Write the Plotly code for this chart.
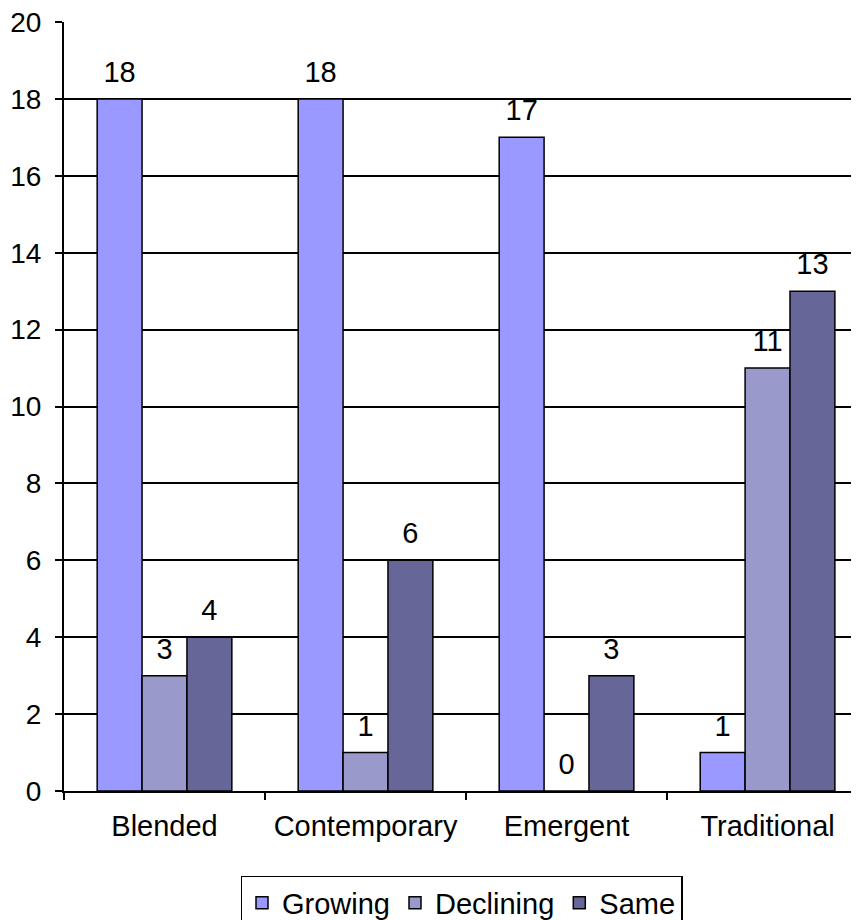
import plotly.graph_objects as go

categories = ["Blended", "Contemporary", "Emergent", "Traditional"]
growing = [18, 18, 17, 1]
declining = [3, 1, 0, 11]
same = [4, 6, 3, 13]
y_ticks = list(range(0, 21, 2))

FONT = "Liberation Sans, Arial, sans-serif"
FS = 29

series = [
    ("Growing", growing, "#9999FF"),
    ("Declining", declining, "#9999CC"),
    ("Same", same, "#666699"),
]

fig = go.Figure()
for name, vals, color in series:
    fig.add_trace(go.Bar(
        name=name, x=categories, y=vals, offsetgroup=name,
        marker=dict(color=color, line=dict(color="black", width=1.5)),
        hoverinfo="x+y+name",
    ))
for name, vals, color in series:
    fig.add_trace(go.Scatter(
        x=categories, y=vals, offsetgroup=name, mode="markers+text",
        text=[str(v) for v in vals], textposition="top center",
        textfont=dict(size=FS, color="black", family=FONT),
        marker=dict(size=14, opacity=0, color=color),
        showlegend=False, hoverinfo="skip", cliponaxis=False,
    ))

fig.update_layout(
    width=851, height=912,
    margin=dict(l=56, r=0, t=14, b=129, autoexpand=False),
    paper_bgcolor="white", plot_bgcolor="white",
    barmode="group", bargap=0.33, bargroupgap=0,
    scattermode="group", scattergap=0.33,
    font=dict(family=FONT, size=FS, color="black"),
    showlegend=True,
    legend=dict(
        orientation="h", x=0.5, xanchor="center", y=-0.1105, yanchor="top",
        bordercolor="black", borderwidth=1.5, bgcolor="white",
        font=dict(size=FS, family=FONT, color="black"),
        traceorder="normal", itemwidth=30, tracegroupgap=0,
    ),
    xaxis=dict(
        type="category", range=[-0.5, 3.455], automargin=False,
        showline=True, linecolor="black", linewidth=2,
        ticks="outside", tickson="boundaries", ticklen=7, tickwidth=1.5, tickcolor="black",
        showgrid=False, tickfont=dict(size=FS), ticklabelstandoff=8,
        ticklabeloverflow="allow",
    ),
    yaxis=dict(
        range=[0, 20], tickvals=y_ticks, automargin=False,
        showline=True, linecolor="black", linewidth=2,
        ticks="outside", ticklen=7, tickwidth=1.5, tickcolor="black",
        showgrid=True, gridcolor="black", gridwidth=1.5,
        zeroline=False, tickfont=dict(size=FS - 1), ticklabelstandoff=8,
        ticklabeloverflow="allow",
    ),
)

fig.write_html("out.html")
